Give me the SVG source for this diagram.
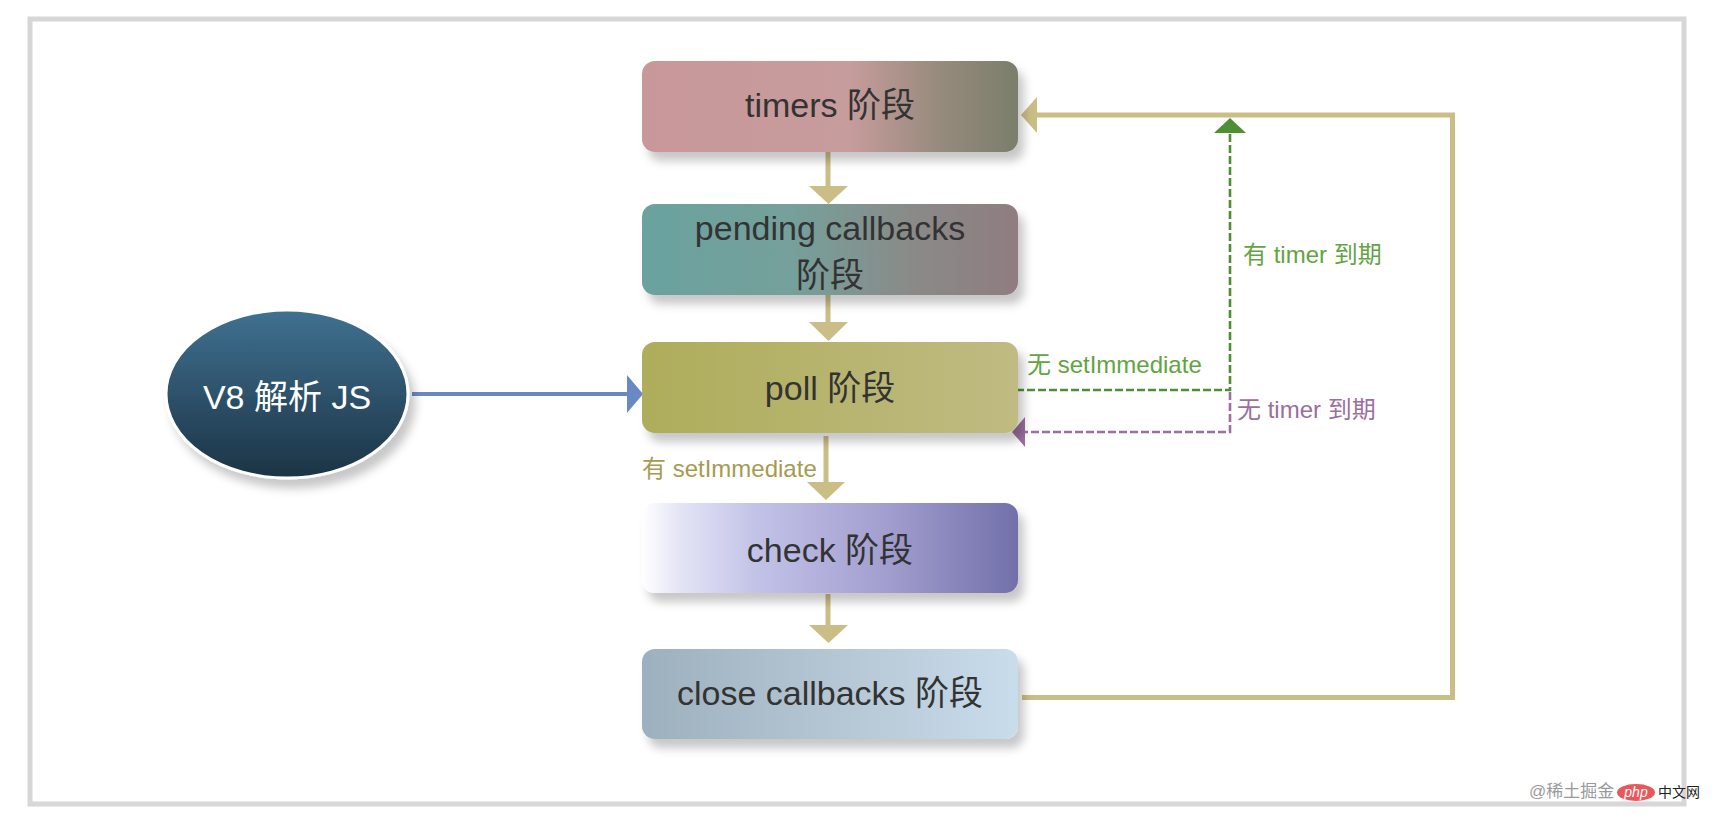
<svg xmlns="http://www.w3.org/2000/svg" width="1712" height="824" viewBox="0 0 1712 824">
<defs>
<style>
.node text{font-family:"Liberation Sans","Noto Sans CJK SC",sans-serif;font-size:34px;fill:#333;text-anchor:middle}
.lbl{font-family:"Liberation Sans","Noto Sans CJK SC",sans-serif;font-size:24px}
.flow{stroke:#cbbd86;stroke-width:5;fill:none}
.head{fill:#cbbd86}
</style>
<filter id="sh" x="-20%" y="-30%" width="150%" height="170%">
<feDropShadow dx="6" dy="9" stdDeviation="5" flood-color="#000" flood-opacity="0.22"/>
</filter>
<linearGradient id="gTimers" x1="0" y1="0" x2="1" y2="0">
<stop offset="0" stop-color="#c8979a"/><stop offset="0.55" stop-color="#c79c9c"/><stop offset="0.8" stop-color="#958a7c"/><stop offset="1" stop-color="#7a7e6b"/>
</linearGradient>
<linearGradient id="gPending" x1="0" y1="0" x2="1" y2="0">
<stop offset="0" stop-color="#69a29e"/><stop offset="0.4" stop-color="#75a09b"/><stop offset="0.72" stop-color="#8a8a88"/><stop offset="1" stop-color="#8f7d80"/>
</linearGradient>
<linearGradient id="gPoll" x1="0" y1="0" x2="1" y2="0">
<stop offset="0" stop-color="#aead5b"/><stop offset="1" stop-color="#bfbb82"/>
</linearGradient>
<linearGradient id="gCheck" x1="0" y1="0" x2="1" y2="0">
<stop offset="0" stop-color="#ffffff"/><stop offset="0.1" stop-color="#e4e4f6"/><stop offset="0.3" stop-color="#c3c3e8"/><stop offset="0.65" stop-color="#a29ecf"/><stop offset="1" stop-color="#7270aa"/>
</linearGradient>
<linearGradient id="gClose" x1="0" y1="0" x2="1" y2="0">
<stop offset="0" stop-color="#9db0be"/><stop offset="0.5" stop-color="#b4c6d3"/><stop offset="1" stop-color="#c9dcec"/>
</linearGradient>
<linearGradient id="gV8" x1="0" y1="0" x2="0" y2="1">
<stop offset="0" stop-color="#3f7191"/><stop offset="1" stop-color="#1c3344"/>
</linearGradient>
</defs>
<rect x="0" y="0" width="1712" height="824" fill="#ffffff"/>
<rect x="30" y="19" width="1654" height="785" fill="#ffffff" stroke="#d8d6d8" stroke-width="5"/>

<g id="connectors">
<line class="flow" x1="828" y1="152" x2="828" y2="187"/>
<polygon class="head" points="809,186 848,186 828.5,204"/>
<line class="flow" x1="828" y1="295" x2="828" y2="323"/>
<polygon class="head" points="809,322 848,322 828.5,341"/>
<line class="flow" x1="826" y1="436" x2="826" y2="483"/>
<polygon class="head" points="807,482 845,482 826,500"/>
<line class="flow" x1="828" y1="594" x2="828" y2="626"/>
<polygon class="head" points="809,625 848,625 828.5,643"/>
<path class="flow" d="M1022,697.5 H1452.5 V115 H1036"/>
<polygon class="head" points="1021,115 1037,97 1037,133"/>
<line x1="412" y1="394" x2="628" y2="394" stroke="#6a89c4" stroke-width="4"/>
<polygon points="643,394 627,375 627,413" fill="#6a89c4"/>
<path d="M1016,390 H1230 V134" fill="none" stroke="#4f8f34" stroke-width="2.6" stroke-dasharray="8,3"/>
<polygon points="1230,118 1214,133 1246,133" fill="#4f8f34"/>
<path d="M1230,392 V432 H1025" fill="none" stroke="#9c6fa0" stroke-width="2.6" stroke-dasharray="8,3"/>
<polygon points="1012,432 1025,417 1025,447" fill="#9c6fa0"/>
<text class="lbl" x="642" y="477" fill="#a69b4f">有 setImmediate</text>
<text class="lbl" x="1027" y="373" fill="#62a43f">无 setImmediate</text>
<text class="lbl" x="1243" y="263" fill="#62a43f">有 timer 到期</text>
<text class="lbl" x="1237" y="418" fill="#9b6e9e">无 timer 到期</text>
</g>

<g id="timers" class="node">
<rect x="642" y="61" width="376" height="91" rx="13" fill="url(#gTimers)" filter="url(#sh)"/>
<text x="830" y="117">timers 阶段</text>
</g>
<g id="pending" class="node">
<rect x="642" y="204" width="376" height="91" rx="13" fill="url(#gPending)" filter="url(#sh)"/>
<text x="830" y="240">pending callbacks</text>
<text x="830" y="287">阶段</text>
</g>
<g id="poll" class="node">
<rect x="642" y="342" width="376" height="91" rx="13" fill="url(#gPoll)" filter="url(#sh)"/>
<text x="830" y="400">poll 阶段</text>
</g>
<g id="check" class="node">
<rect x="642" y="503" width="376" height="90" rx="13" fill="url(#gCheck)" filter="url(#sh)"/>
<text x="830" y="562">check 阶段</text>
</g>
<g id="close" class="node">
<rect x="642" y="649" width="376" height="90" rx="13" fill="url(#gClose)" filter="url(#sh)"/>
<text x="830" y="705">close callbacks 阶段</text>
</g>
<g id="v8" class="node">
<ellipse cx="287" cy="394" rx="121" ry="84" fill="url(#gV8)" stroke="#ffffff" stroke-width="3" filter="url(#sh)"/>
<text x="287" y="409" style="fill:#ffffff">V8 解析 JS</text>
</g>

<g id="watermark">
<text x="1529" y="797" font-family="Liberation Sans,'Noto Sans CJK SC',sans-serif" font-size="17" fill="#9a9a9a">@稀土掘金</text>
<ellipse cx="1636" cy="792.5" rx="19" ry="8.5" fill="#e8585a"/>
<text x="1636" y="797" font-family="Liberation Sans,sans-serif" font-size="14" font-style="italic" fill="#ffffff" text-anchor="middle">php</text>
<text x="1658" y="797" font-family="'Noto Sans CJK SC',sans-serif" font-size="14" fill="#222">中文网</text>
</g>
</svg>
